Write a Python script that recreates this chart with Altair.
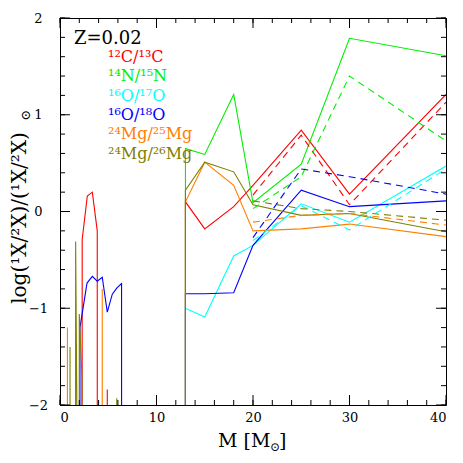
import altair as alt
import pandas as pd

OFF = -30.0  # off-scale (below the plotted range)

names = ["12C/13C", "14N/15N", "16O/17O", "16O/18O", "24Mg/25Mg", "24Mg/26Mg"]
labels = ["¹²C/¹³C", "¹⁴N/¹⁵N", "¹⁶O/¹⁷O", "¹⁶O/¹⁸O", "²⁴Mg/²⁵Mg", "²⁴Mg/²⁶Mg"]
colors = ["#ff0000", "#00ee00", "#00ffff", "#0000ff", "#ff8000", "#808000"]

# massive stars, solid
m_hi = [13, 13, 15, 18, 20, 25, 30, 40]
hi_c = [OFF, 0.10, -0.18, 0.05, 0.27, 0.84, 0.18, 1.21]
hi_n = [OFF, 0.65, 0.59, 1.21, 0.09, 0.49, 1.79, 1.61]
hi_o17 = [OFF, -1.00, -1.09, -0.46, -0.35, 0.08, -0.11, 0.47]
hi_o18 = [OFF, -0.85, -0.85, -0.84, -0.35, 0.22, 0.05, 0.11]
hi_mg25 = [OFF, 0.10, 0.51, 0.27, -0.20, -0.18, -0.13, -0.26]
hi_mg26 = [OFF, 0.22, 0.51, 0.41, 0.07, -0.04, -0.02, -0.21]

# massive stars, dashed
m_dash = [20, 25, 30, 40]
d_c = [0.17, 0.79, 0.07, 1.13]
d_n = [0.03, 0.36, 1.40, 0.73]
d_o17 = [-0.30, 0.06, -0.19, 0.44]
d_o18 = [-0.27, 0.44, 0.36, 0.18]
d_mg25 = [-0.11, -0.04, -0.02, -0.14]
d_mg26 = [0.11, 0.03, 0.00, -0.09]

# low / intermediate mass stars
lo_c_m = [2.2, 2.3, 2.83, 3.35, 3.86, 3.92, 4.85, 4.9, 4.95]
lo_c_v = [OFF, -0.29, 0.16, 0.20, -0.20, OFF, OFF, -1.84, OFF]
lo_o18_m = [2.0, 2.07, 2.8, 3.35, 3.86, 4.38, 4.9, 5.42, 5.9, 6.38, 6.42]
lo_o18_v = [OFF, -1.20, -0.74, -0.67, -0.72, -0.68, -1.04, -0.855, -0.79, -0.745, OFF]
lo_mg25_m = [0.7, 0.77, 0.84, 4.32, 4.38, 4.44]
lo_mg25_v = [OFF, -1.20, OFF, OFF, -0.80, OFF]
lo_mg26_m = [0.98, 1.04, 1.10, 1.56, 1.62, 1.75, 1.80, 1.96, 2.0, 2.27, 2.32, 5.84, 5.88, 5.92]
lo_mg26_v = [OFF, -1.40, OFF, OFF, -0.31, -2.05, OFF, OFF, -1.06, -1.70, OFF, OFF, -1.93, OFF]

x_major = [0, 10, 20, 30, 40]
x_minor = list(range(0, 41, 2))
y_major = [-2, -1, 0, 1, 2]
y_minor = [round(-2 + 0.2 * k, 1) for k in range(21)]

W, H = 386, 387
FONT = "DejaVu Serif"


def rows(key, name, ms, vs):
    return [{"key": key, "series": name, "M": m, "v": v, "i": k} for k, (m, v) in enumerate(zip(ms, vs))]


solid = []
for name, vals in zip(names, [hi_c, hi_n, hi_o17, hi_o18, hi_mg25, hi_mg26]):
    solid += rows(name + "_hi", name, m_hi, vals)
for name, ms, vs in [(names[0], lo_c_m, lo_c_v), (names[3], lo_o18_m, lo_o18_v),
                     (names[4], lo_mg25_m, lo_mg25_v), (names[5], lo_mg26_m, lo_mg26_v)]:
    solid += rows(name + "_lo", name, ms, vs)
dashed = []
for name, vals in zip(names, [d_c, d_n, d_o17, d_o18, d_mg25, d_mg26]):
    dashed += rows(name + "_d", name, m_dash, vals)

df_s = pd.DataFrame(solid)
df_d = pd.DataFrame(dashed)

xscale = alt.Scale(domain=[0, 40], nice=False, zero=False)
yscale = alt.Scale(domain=[-2, 2], nice=False, zero=False)
xaxis = alt.Axis(values=x_major, ticks=False, domain=False, grid=False, title=None,
                 labelFont=FONT, labelFontSize=13, labelColor="black", labelPadding=6)
yaxis = alt.Axis(values=y_major, ticks=False, domain=False, grid=False, title=None,
                 labelFont=FONT, labelFontSize=13, labelColor="black", labelPadding=22,
                 labelAlign="center", labelBaseline="middle")
cscale = alt.Scale(domain=names, range=colors)

enc = dict(
    x=alt.X("M:Q", scale=xscale, axis=xaxis),
    y=alt.Y("v:Q", scale=yscale, axis=yaxis),
    color=alt.Color("series:N", scale=cscale, legend=None),
    detail="key:N",
    order="i:Q",
)
l_solid = alt.Chart(df_s).mark_line(clip=True, strokeWidth=1.1).encode(**enc)
l_dash = alt.Chart(df_d).mark_line(clip=True, strokeWidth=1.1, strokeDash=[7, 5]).encode(**enc)


def xticks(vals, length):
    d = pd.DataFrame({"t": vals})
    b = alt.Chart(d).mark_rule(color="black", strokeWidth=1).encode(
        x=alt.X("t:Q", scale=xscale, axis=xaxis), y=alt.value(H), y2=alt.value(H - length))
    t = alt.Chart(d).mark_rule(color="black", strokeWidth=1).encode(
        x=alt.X("t:Q", scale=xscale, axis=xaxis), y=alt.value(0), y2=alt.value(length))
    return [b, t]


def yticks(vals, length):
    d = pd.DataFrame({"t": vals})
    l = alt.Chart(d).mark_rule(color="black", strokeWidth=1).encode(
        y=alt.Y("t:Q", scale=yscale, axis=yaxis), x=alt.value(0), x2=alt.value(length))
    r = alt.Chart(d).mark_rule(color="black", strokeWidth=1).encode(
        y=alt.Y("t:Q", scale=yscale, axis=yaxis), x=alt.value(W), x2=alt.value(W - length))
    return [l, r]


def text(s, x, y, color="black", size=16, align="left", baseline="middle", angle=0):
    kw = dict(align=align, baseline=baseline, font=FONT, fontSize=size, color=color)
    if angle:
        kw["angle"] = angle
    return alt.Chart(pd.DataFrame({"t": [s]})).mark_text(**kw).encode(
        text="t:N", x=alt.value(x), y=alt.value(y))


texts = [text("Z=0.02", 14, 21, size=18)]
for k, (lab, col) in enumerate(zip(labels, colors)):
    texts.append(text(lab, 48, 39 + 19.3 * k, color=col, size=16))

texts += [
    text("M  [M", 158, 429, size=19, baseline="alphabetic"),
    text("⊙", 210, 433, size=12, baseline="alphabetic"),
    text("]", 219, 429, size=19, baseline="alphabetic"),
    text("log(¹X/²X)/(¹X/²X)", -40, 200, size=20, align="center", angle=270),
    text("⊙", -34, 97, size=13, align="center", angle=270),
]

layers = [l_solid, l_dash] + xticks(x_minor, 5) + xticks(x_major, 10) + yticks(y_minor, 5) + yticks(y_major, 10) + texts

chart = alt.layer(*layers).properties(
    width=W, height=H,
    autosize="none",
    padding={"left": 52, "top": 10, "right": 9, "bottom": 50},
).configure_view(stroke="black", strokeWidth=1)

chart.save("out.html", embed_options={"renderer": "svg", "actions": False})
